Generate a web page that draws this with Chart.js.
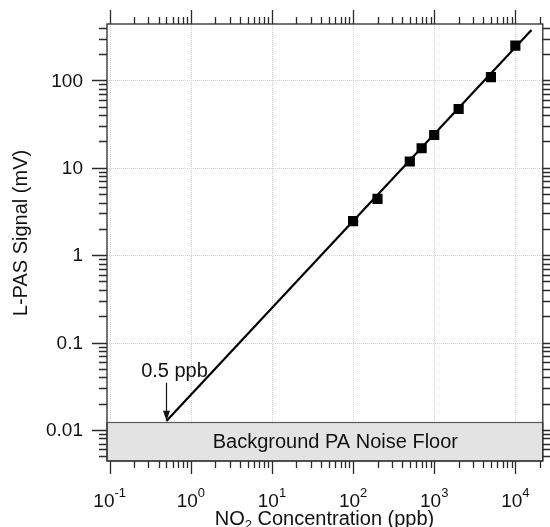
<!DOCTYPE html>
<html><head><meta charset="utf-8">
<script src="https://cdn.jsdelivr.net/npm/chart.js@4.4.1/dist/chart.umd.min.js"></script>
<style>html,body{margin:0;padding:0;background:#fff;}canvas{display:block;}</style>
</head><body>
<canvas id="c" width="550" height="527"></canvas>
<script>
// ---- data ----
const concentrations = [100, 200, 500, 700, 1000, 2000, 5000, 10000]; // ppb
const signals = [2.45, 4.4, 11.8, 16.7, 23.7, 47, 109, 249];           // mV
const fitX = [0.5, 15800];
const fitY = [0.0127, 376];
const noiseFloor = 0.0124;
const detectionLimit = 0.5;
const detectionLabel = '0.5 ppb';
const noiseLabel = 'Background PA Noise Floor';
const xMajorTicks = [0.1, 1, 10, 100, 1000, 10000];
const xTickExponents = ['-1', '0', '1', '2', '3', '4'];
const yMajorTicks = [0.01, 0.1, 1, 10, 100];
const yTickLabels = ['0.01', '0.1', '1', '10', '100'];
const xRange = [0.0926, 21800];
const yRange = [0.00442, 441];
const xTitleMain = 'NO', xTitleSub = '2', xTitleRest = ' Concentration (ppb)';
const yTitle = 'L-PAS Signal (mV)';

const FONT = '"Liberation Sans", Arial, Helvetica, sans-serif';
const AXIS = '#2a2a2a';

function logTicks(lo, hi) {
  const out = [];
  for (let e = Math.floor(Math.log10(lo)); e <= Math.ceil(Math.log10(hi)); e++) {
    for (let m = 1; m < 10; m++) {
      const v = m * Math.pow(10, e);
      if (v >= lo && v <= hi) out.push({ v, major: m === 1 });
    }
  }
  return out;
}

const axisPlugin = {
  id: 'axisPlugin',
  beforeDatasetsDraw(chart) {
    const { ctx, chartArea: a, scales: { x, y } } = chart;
    ctx.save();
    // grid
    ctx.strokeStyle = '#d2d2d2'; ctx.lineWidth = 1; ctx.setLineDash([1, 1]);
    xMajorTicks.forEach(v => {
      const px = Math.round(x.getPixelForValue(v)) + 0.5;
      ctx.beginPath(); ctx.moveTo(px, a.top); ctx.lineTo(px, a.bottom); ctx.stroke();
    });
    yMajorTicks.forEach(v => {
      const py = Math.round(y.getPixelForValue(v)) + 0.5;
      ctx.beginPath(); ctx.moveTo(a.left, py); ctx.lineTo(a.right, py); ctx.stroke();
    });
    ctx.setLineDash([]);
    // noise floor band
    const yTop = Math.round(y.getPixelForValue(noiseFloor)) + 0.5;
    ctx.fillStyle = '#e3e3e3';
    ctx.fillRect(a.left, yTop, a.right - a.left, a.bottom - yTop);
    ctx.strokeStyle = '#5a5a5a'; ctx.lineWidth = 1.2;
    ctx.strokeRect(a.left, yTop, a.right - a.left, a.bottom - yTop);
    ctx.fillStyle = '#111'; ctx.font = '20px ' + FONT;
    ctx.textAlign = 'center'; ctx.textBaseline = 'middle';
    ctx.fillText(noiseLabel, a.left + (a.right - a.left) * 0.524, (yTop + a.bottom) / 2 + 1);
    ctx.restore();
  },
  afterDraw(chart) {
    const { ctx, chartArea: a, scales: { x, y } } = chart;
    ctx.save();
    ctx.strokeStyle = AXIS; ctx.lineWidth = 1.3;
    // frame
    ctx.strokeRect(a.left, a.top, a.right - a.left, a.bottom - a.top);
    // x ticks (bottom & top)
    logTicks(xRange[0], xRange[1]).forEach(t => {
      const px = Math.round(x.getPixelForValue(t.v)) + 0.5;
      const L = t.major ? 13 : 7;
      ctx.beginPath();
      ctx.moveTo(px, a.bottom); ctx.lineTo(px, a.bottom + L);
      ctx.moveTo(px, a.top); ctx.lineTo(px, a.top - L - (t.major ? 1 : 0));
      ctx.stroke();
    });
    // y ticks (left & right)
    logTicks(yRange[0], yRange[1]).forEach(t => {
      const py = Math.round(y.getPixelForValue(t.v)) + 0.5;
      const L = t.major ? 15 : 8;
      ctx.beginPath();
      ctx.moveTo(a.left, py); ctx.lineTo(a.left - L, py);
      ctx.moveTo(a.right, py); ctx.lineTo(a.right + L, py);
      ctx.stroke();
    });
    // y tick labels
    ctx.fillStyle = '#111';
    ctx.font = '19px ' + FONT; ctx.textAlign = 'right'; ctx.textBaseline = 'middle';
    yMajorTicks.forEach((v, i) => {
      ctx.fillText(yTickLabels[i], 83, y.getPixelForValue(v) + 1);
    });
    // x tick labels with superscript exponents
    ctx.textBaseline = 'alphabetic'; ctx.textAlign = 'left';
    xMajorTicks.forEach((v, i) => {
      ctx.font = '19px ' + FONT;
      const wb = ctx.measureText('10').width;
      ctx.font = '13px ' + FONT;
      const we = ctx.measureText(xTickExponents[i]).width;
      const left = x.getPixelForValue(v) - (wb + we) / 2;
      ctx.font = '19px ' + FONT;
      ctx.fillText('10', left, 507);
      ctx.font = '13px ' + FONT;
      ctx.fillText(xTickExponents[i], left + wb, 497);
    });
    // x title with subscript
    ctx.font = '20px ' + FONT;
    const w1 = ctx.measureText(xTitleMain).width;
    const w3 = ctx.measureText(xTitleRest).width;
    ctx.font = '13px ' + FONT;
    const w2 = ctx.measureText(xTitleSub).width;
    let tx = 324.5 - (w1 + w2 + w3) / 2;
    ctx.font = '20px ' + FONT; ctx.fillText(xTitleMain, tx, 524.5);
    ctx.font = '13px ' + FONT; ctx.fillText(xTitleSub, tx + w1, 529);
    ctx.font = '20px ' + FONT; ctx.fillText(xTitleRest, tx + w1 + w2, 524.5);
    // y title
    ctx.save();
    ctx.translate(27, 233); ctx.rotate(-Math.PI / 2);
    ctx.textAlign = 'center'; ctx.font = '20px ' + FONT;
    ctx.fillText(yTitle, 0, 0);
    ctx.restore();
    // detection limit annotation
    const ax = Math.round(x.getPixelForValue(detectionLimit)) + 0.5;
    const ay = y.getPixelForValue(noiseFloor);
    ctx.strokeStyle = '#111'; ctx.lineWidth = 1.2;
    ctx.beginPath(); ctx.moveTo(ax, ay - 39); ctx.lineTo(ax, ay - 8); ctx.stroke();
    ctx.fillStyle = '#111';
    ctx.beginPath(); ctx.moveTo(ax - 3.5, ay - 11); ctx.lineTo(ax + 3.5, ay - 11); ctx.lineTo(ax, ay - 1); ctx.closePath(); ctx.fill();
    ctx.font = '20px ' + FONT; ctx.textAlign = 'center';
    ctx.fillText(detectionLabel, ax + 8, ay - 45);
    ctx.restore();
  }
};

new Chart(document.getElementById('c'), {
  type: 'scatter',
  data: {
    datasets: [
      {
        label: 'fit',
        data: fitX.map((v, i) => ({ x: v, y: fitY[i] })),
        showLine: true, borderColor: '#000', borderWidth: 2.2,
        pointRadius: 0, fill: false, order: 2
      },
      {
        label: 'measured',
        data: concentrations.map((v, i) => ({ x: v, y: signals[i] })),
        showLine: false, pointStyle: 'rect', pointRadius: 7.2,
        backgroundColor: '#000', borderColor: '#000', borderWidth: 0, order: 1
      }
    ]
  },
  options: {
    responsive: false, animation: false, devicePixelRatio: 1,
    layout: { padding: { left: 107, right: 7, top: 24, bottom: 66 } },
    plugins: { legend: { display: false }, tooltip: { enabled: false } },
    scales: {
      x: { type: 'logarithmic', min: xRange[0], max: xRange[1], display: false },
      y: { type: 'logarithmic', min: yRange[0], max: yRange[1], display: false }
    }
  },
  plugins: [axisPlugin]
});
</script>
</body></html>
